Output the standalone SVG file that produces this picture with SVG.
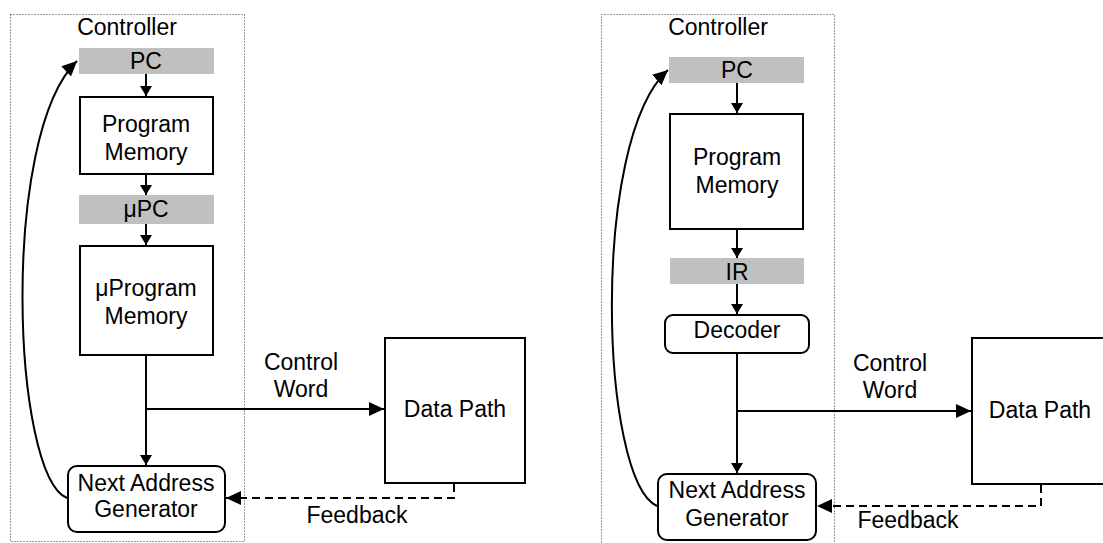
<svg xmlns="http://www.w3.org/2000/svg" width="1103" height="543" viewBox="0 0 1103 543">
  <style>
    .frame { fill: none; stroke: #333; stroke-width: 1; stroke-dasharray: 1 2; }
    .reg { fill: #c0c0c0; stroke: none; }
    .box { fill: #fff; stroke: #000; stroke-width: 2; }
    .wire { fill: none; stroke: #000; stroke-width: 2; }
    .dash { fill: none; stroke: #000; stroke-width: 2; stroke-dasharray: 8 5; }
    text { font-family: "Liberation Sans", Arial, sans-serif; font-size: 23px; fill: #000; text-anchor: middle; }
  </style>
  <defs>
    <marker id="small" markerUnits="userSpaceOnUse" markerWidth="11" markerHeight="12" refX="10" refY="6" orient="auto">
      <path d="M0,0 L10,6 L0,12 z" fill="#000"/>
    </marker>
    <marker id="big" markerUnits="userSpaceOnUse" markerWidth="16" markerHeight="14" refX="15" refY="7" orient="auto">
      <path d="M0,0 L15,7 L0,14 z" fill="#000"/>
    </marker>
  </defs>

  <!-- Microprogrammed controller (left) -->
  <g id="controller-left">
    <rect class="frame" x="10.5" y="14.5" width="234" height="527"/>
    <text x="127" y="35">Controller</text>
  </g>
  <g id="pc-left">
    <rect class="reg" x="79" y="48" width="135" height="26"/>
    <text x="146" y="69">PC</text>
  </g>
  <g id="program-memory-left">
    <rect class="box" x="80" y="97" width="133" height="77"/>
    <text x="146" y="132">Program</text>
    <text x="146" y="160">Memory</text>
  </g>
  <g id="upc-left">
    <rect class="reg" x="79" y="195" width="135" height="29"/>
    <text x="146" y="217">μPC</text>
  </g>
  <g id="uprogram-memory-left">
    <rect class="box" x="80" y="246" width="133" height="109"/>
    <text x="146" y="296">μProgram</text>
    <text x="146" y="324">Memory</text>
  </g>
  <g id="next-address-left">
    <rect class="box" x="68" y="466" width="157" height="66" rx="9"/>
    <text x="146" y="491">Next Address</text>
    <text x="146" y="517">Generator</text>
  </g>
  <g id="data-path-left">
    <rect class="box" x="385" y="338" width="140" height="145"/>
    <text x="455" y="417">Data Path</text>
  </g>
  <g id="labels-left">
    <text x="301" y="370">Control</text>
    <text x="301" y="397">Word</text>
    <text x="357" y="523">Feedback</text>
  </g>

  <!-- Hardwired controller (right) -->
  <g id="controller-right">
    <rect class="frame" x="601.5" y="14.5" width="233" height="535"/>
    <text x="718" y="35">Controller</text>
  </g>
  <g id="pc-right">
    <rect class="reg" x="669" y="57" width="135" height="26"/>
    <text x="737" y="78">PC</text>
  </g>
  <g id="program-memory-right">
    <rect class="box" x="670" y="114" width="133" height="115"/>
    <text x="737" y="165">Program</text>
    <text x="737" y="193">Memory</text>
  </g>
  <g id="ir-right">
    <rect class="reg" x="670" y="258" width="134" height="26"/>
    <text x="737" y="280">IR</text>
  </g>
  <g id="decoder-right">
    <rect class="box" x="665" y="315" width="144" height="38" rx="8"/>
    <text x="737" y="338">Decoder</text>
  </g>
  <g id="next-address-right">
    <rect class="box" x="658" y="474" width="158" height="66" rx="9"/>
    <text x="737" y="498">Next Address</text>
    <text x="737" y="526">Generator</text>
  </g>
  <g id="data-path-right">
    <rect class="box" x="972" y="338" width="140" height="146"/>
    <text x="1040" y="418">Data Path</text>
  </g>
  <g id="labels-right">
    <text x="890" y="371">Control</text>
    <text x="890" y="398">Word</text>
    <text x="908" y="528">Feedback</text>
  </g>

  <g id="connectors">
    <!-- left -->
    <line class="wire" x1="146" y1="74" x2="146" y2="96" marker-end="url(#small)"/>
    <line class="wire" x1="146" y1="175" x2="146" y2="195" marker-end="url(#small)"/>
    <line class="wire" x1="146" y1="224" x2="146" y2="245" marker-end="url(#small)"/>
    <line class="wire" x1="146" y1="356" x2="146" y2="465" marker-end="url(#small)"/>
    <path class="wire" d="M146,409 H384" marker-end="url(#big)"/>
    <path class="dash" d="M454,484 V498 H226" marker-end="url(#big)"/>
    <path class="wire" d="M67,498 C12,475 0,135 77,61" marker-end="url(#big)"/>
    <!-- right -->
    <line class="wire" x1="737" y1="83" x2="737" y2="113" marker-end="url(#small)"/>
    <line class="wire" x1="737" y1="230" x2="737" y2="258" marker-end="url(#small)"/>
    <line class="wire" x1="737" y1="284" x2="737" y2="314" marker-end="url(#small)"/>
    <line class="wire" x1="737" y1="354" x2="737" y2="473" marker-end="url(#small)"/>
    <path class="wire" d="M737,411 H971" marker-end="url(#big)"/>
    <path class="dash" d="M1041,485 V506 H817" marker-end="url(#big)"/>
    <path class="wire" d="M657,506 C600,480 590,140 668,70" marker-end="url(#big)"/>
  </g>
</svg>
